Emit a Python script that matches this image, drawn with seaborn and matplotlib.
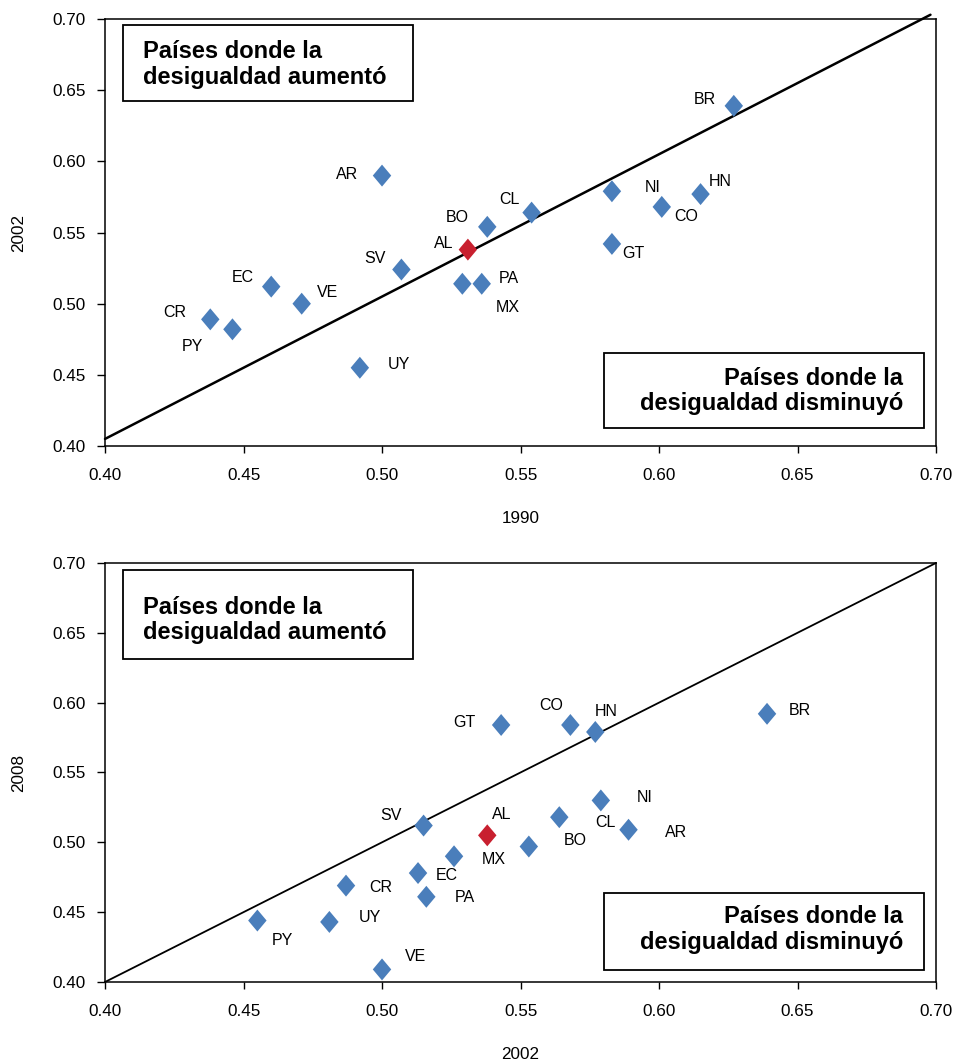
import matplotlib
matplotlib.use("Agg")
import matplotlib.pyplot as plt
import pandas as pd
import seaborn as sns
from matplotlib.path import Path
from matplotlib.patches import Rectangle

# Panel superior: 1990 vs 2002
paises_a = ["BR", "AR", "CL", "BO", "AL", "SV", "PA", "MX", "EC", "VE",
            "CR", "PY", "UY", "NI", "CO", "HN", "GT"]
gini_1990 = [0.627, 0.500, 0.554, 0.538, 0.531, 0.507, 0.536, 0.529, 0.460, 0.471,
             0.438, 0.446, 0.492, 0.583, 0.601, 0.615, 0.583]
gini_2002_a = [0.639, 0.590, 0.564, 0.554, 0.538, 0.524, 0.514, 0.514, 0.512, 0.500,
               0.489, 0.482, 0.455, 0.579, 0.568, 0.577, 0.542]

# Panel inferior: 2002 vs 2008
paises_b = ["BR", "GT", "CO", "HN", "NI", "CL", "AR", "BO", "SV", "AL",
            "MX", "EC", "PA", "CR", "PY", "UY", "VE"]
gini_2002_b = [0.639, 0.543, 0.568, 0.577, 0.579, 0.564, 0.589, 0.553, 0.515, 0.538,
               0.526, 0.513, 0.516, 0.487, 0.455, 0.481, 0.500]
gini_2008 = [0.592, 0.584, 0.584, 0.579, 0.530, 0.518, 0.509, 0.497, 0.512, 0.505,
             0.490, 0.478, 0.461, 0.469, 0.444, 0.443, 0.409]

# lineas de igualdad
diag_a_x = [0.40, 0.698]
diag_a_y = [0.405, 0.703]
diag_b_x = [0.40, 0.70]
diag_b_y = [0.40, 0.70]

ticks = [0.40, 0.45, 0.50, 0.55, 0.60, 0.65, 0.70]
txt_aumento = "Países donde la\ndesigualdad aumentó"
txt_disminuyo = "Países donde la\ndesigualdad disminuyó"

# desplazamiento de etiquetas (pixeles)
off_a = {"BR": (-29, 6), "AR": (-35, 1), "CL": (-22, 13), "BO": (-30, 9), "AL": (-24, 6),
         "SV": (-26, 11), "PA": (27, 5), "MX": (45, -24), "EC": (-28, 9), "VE": (26, 11),
         "CR": (-36, 7), "PY": (-40, -17), "UY": (39, 3), "NI": (41, 4), "CO": (24, -10),
         "HN": (20, 13), "GT": (21, -10)}
off_b = {"BR": (33, 3), "GT": (-37, 2), "CO": (-19, 19), "HN": (11, 20), "NI": (44, 3),
         "CL": (46, -5), "AR": (47, -3), "BO": (46, 6), "SV": (-33, 10), "AL": (14, 21),
         "MX": (40, -3), "EC": (29, -2), "PA": (38, -1), "CR": (35, -2), "PY": (25, -20),
         "UY": (41, 4), "VE": (34, 13)}

sns.set_theme(style="ticks")
plt.rcParams["font.family"] = ["Liberation Sans", "DejaVu Sans"]
plt.rcParams["text.color"] = "black"
plt.rcParams["axes.labelcolor"] = "black"

diamante = Path([(0, 1), (0.84, 0), (0, -1), (-0.84, 0), (0, 1)],
                [Path.MOVETO, Path.LINETO, Path.LINETO, Path.LINETO, Path.CLOSEPOLY])
colores = {"pais": "#4A7EBB", "AL": "#C8202F"}


def panel(ax, paises, xs, ys, offs, dx, dy, lw, xlab, ylab, box_sup, box_inf):
    df = pd.DataFrame({"pais": paises, "x": xs, "y": ys})
    df["grupo"] = ["AL" if p == "AL" else "pais" for p in paises]
    ax.plot(dx, dy, color="black", lw=lw, clip_on=False, zorder=2)
    sns.scatterplot(data=df, x="x", y="y", hue="grupo", palette=colores, marker=diamante,
                    s=250, linewidth=0, legend=False, ax=ax, zorder=3)
    for p, x, y in zip(paises, xs, ys):
        ax.annotate(p, (x, y), xytext=offs[p], textcoords="offset pixels",
                    ha="center", va="center", fontsize=11.5, color="black")
    ax.set_xlim(0.40, 0.70)
    ax.set_ylim(0.40, 0.70)
    ax.set_xticks(ticks)
    ax.set_yticks(ticks)
    ax.set_xticklabels([f"{t:.2f}" for t in ticks])
    ax.set_yticklabels([f"{t:.2f}" for t in ticks])
    ax.tick_params(axis="both", labelsize=12.3, colors="black", width=1, direction="out")
    ax.tick_params(axis="x", length=5, pad=11)
    ax.tick_params(axis="y", length=6, pad=8)
    ax.set_xlabel(xlab, fontsize=12.3, labelpad=20)
    ax.set_ylabel(ylab, fontsize=12.3, labelpad=19)
    for s in ax.spines.values():
        s.set_visible(True)
        s.set_color("black")
        s.set_linewidth(1.1)

    # recuadros de texto
    x0, y0, w, h, ty = box_sup
    ax.add_patch(Rectangle((x0, y0), w, h, transform=ax.transAxes, facecolor="white",
                           edgecolor="black", lw=1.3, zorder=4))
    ax.text(0.0457, ty, txt_aumento, transform=ax.transAxes, ha="left", va="center",
            fontsize=17, fontweight="bold", linespacing=1.15, zorder=5)
    x0, y0, w, h, ty = box_inf
    ax.add_patch(Rectangle((x0, y0), w, h, transform=ax.transAxes, facecolor="white",
                           edgecolor="black", lw=1.3, zorder=4))
    ax.text(0.9603, ty, txt_disminuyo, transform=ax.transAxes, ha="right", va="center",
            multialignment="right", fontsize=17, fontweight="bold", linespacing=1.15,
            zorder=5)


fig = plt.figure(figsize=(9.6, 10.63), dpi=100)
fig.patch.set_facecolor("white")
ax1 = fig.add_axes([0.1094, 0.5804, 0.8656, 0.4017])
ax2 = fig.add_axes([0.1094, 0.0762, 0.8656, 0.3942])

panel(ax1, paises_a, gini_1990, gini_2002_a, off_a, diag_a_x, diag_a_y, 1.8, "1990", "2002",
      (0.0217, 0.808, 0.349, 0.178, 0.894), (0.6005, 0.0422, 0.385, 0.1756, 0.129))
panel(ax2, paises_b, gini_2002_b, gini_2008, off_b, diag_b_x, diag_b_y, 1.3, "2002", "2008",
      (0.0217, 0.771, 0.349, 0.212, 0.864), (0.6005, 0.029, 0.385, 0.183, 0.126))

fig.savefig("out.png", dpi=100, facecolor="white")
